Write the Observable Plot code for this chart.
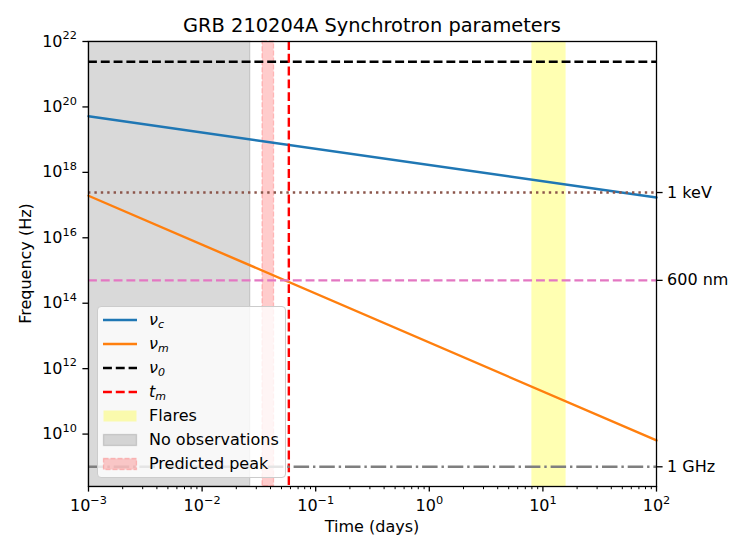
<!DOCTYPE html>
<html>
<head>
<meta charset="utf-8">
<script src="https://cdn.jsdelivr.net/npm/d3@7"></script>
<script src="https://cdn.jsdelivr.net/npm/@observablehq/plot@0.6"></script>
<style>
  html, body { margin: 0; padding: 0; background: white; }
  #chart { position: relative; width: 747px; height: 560px; font-family: "DejaVu Sans", sans-serif; }
  .legend { position: absolute; left: 97px; top: 306px; width: 189px; height: 172px; box-sizing: border-box;
            background: rgba(255,255,255,0.8); border: 1px solid #cccccc; border-radius: 4px; padding-top: 1px; }
  .row { position: relative; height: 24px; }
  .row svg { position: absolute; left: 4px; top: 0; }
  .row span { position: absolute; left: 51px; top: 1px; line-height: 22px; font-size: 16px; color: black; white-space: nowrap; }
  .row span i sub { font-size: 11px; vertical-align: -3px; }
</style>
</head>
<body>
<div id="chart"></div>
<script>
// ---- data ----
const timeDomain = [1e-3, 1e2];          // days
const freqDomain = [2.5e8, 1e22];        // Hz
const lineTimes = [1e-3, 1e2];
const nuC = [5.2e19, 1.7e17];            // cooling frequency
const nuM = [1.93e17, 6.4e9];            // characteristic frequency
const nu0 = 2.4e21;
const tM = 0.058;
const flares = [8, 16];
const noObs = [1e-3, 0.0265];
const predictedPeak = [0.034, 0.043];
const refFreqs = [2.418e17, 5e14, 1e9];
const refLabels = ["1 keV", "600 nm", "1 GHz"];
const refColors = ["#8c564b", "#e377c2", "#7f7f7f"];
const refDashes = ["2.4,4", "8.9,3.9", "15.5,3.9,2.4,3.9"];
const xTickExps = [-3, -2, -1, 0, 1, 2];
const yTickExps = [10, 12, 14, 16, 18, 20, 22];
const titleText = "GRB 210204A Synchrotron parameters";
const xLabel = "Time (days)";
const yLabel = "Frequency (Hz)";

const xTicks = xTickExps.map(e => Math.pow(10, e));
const yTicks = yTickExps.map(e => Math.pow(10, e));
const xMinor = [];
for (const e of xTickExps.slice(0, -1)) for (let k = 2; k <= 9; k++) xMinor.push(k * Math.pow(10, e));
const expFmt = d => "10^" + String(Math.round(Math.log10(d))).replace("-", "\u2212");

const cData = lineTimes.map((t, i) => ({t, f: nuC[i]}));
const mData = lineTimes.map((t, i) => ({t, f: nuM[i]}));
const refData = refFreqs.map((f, i) => ({f, color: refColors[i], dash: refDashes[i]}));

const svgPlot = Plot.plot({
  width: 747, height: 560,
  marginLeft: 88, marginRight: 91, marginTop: 41, marginBottom: 74,
  x: {type: "log", domain: timeDomain, label: null},
  y: {type: "log", domain: freqDomain, label: null},
  style: {fontFamily: "'DejaVu Sans', sans-serif", fontSize: "16px", background: "white", color: "black", overflow: "visible"},
  marks: [
    Plot.rect([noObs], {x1: d => d[0], x2: d => d[1], fill: "gray", fillOpacity: 0.3, stroke: "gray", strokeOpacity: 0.3, strokeWidth: 1.3}),
    Plot.rect([predictedPeak], {x1: d => d[0], x2: d => d[1], fill: "red", fillOpacity: 0.2, stroke: "red", strokeOpacity: 0.2, strokeWidth: 1.3, strokeDasharray: "5,2"}),
    Plot.rect([flares], {x1: d => d[0], x2: d => d[1], fill: "yellow", fillOpacity: 0.3}),
    Plot.line(cData, {x: "t", y: "f", stroke: "#1f77b4", strokeWidth: 2.4}),
    Plot.line(mData, {x: "t", y: "f", stroke: "#ff7f0e", strokeWidth: 2.4}),
    Plot.ruleY([nu0], {stroke: "black", strokeWidth: 2.4, strokeDasharray: "8.9,3.9"}),
    Plot.ruleX([tM], {stroke: "red", strokeWidth: 2.4, strokeDasharray: "8.9,3.9"}),
    ...refData.map(r => Plot.ruleY([r.f], {stroke: r.color, strokeWidth: 2.4, strokeDasharray: r.dash})),
    Plot.frame({stroke: "black", strokeWidth: 1.3}),
    Plot.axisX(xMinor, {tickSize: 3.2, tickFormat: () => "", strokeWidth: 1, label: null}),
    Plot.axisX(xTicks, {tickSize: 5.6, tickPadding: 7.5, tickFormat: expFmt, strokeWidth: 1.3, label: null}),
    Plot.axisY(yTicks, {anchor: "left", tickSize: 5.6, tickPadding: 6, tickFormat: expFmt, strokeWidth: 1.3, label: null}),
    Plot.axisY(refFreqs, {anchor: "right", tickSize: 5.6, tickPadding: 5, tickFormat: d => refLabels[refFreqs.indexOf(d)], strokeWidth: 1.3, label: null})
  ]
});

// superscripts for exponent tick labels
const ns = "http://www.w3.org/2000/svg";
svgPlot.querySelectorAll("text").forEach(t => {
  const s = t.textContent;
  if (!s.includes("^")) return;
  const [b, e] = s.split("^");
  t.textContent = b;
  const ts = document.createElementNS(ns, "tspan");
  ts.setAttribute("dy", "-7.3");
  ts.setAttribute("font-size", "11.3px");
  ts.textContent = e;
  t.appendChild(ts);
});

const sel = d3.select(svgPlot);
sel.append("text").attr("x", 372).attr("y", 32).attr("text-anchor", "middle")
  .attr("font-size", "19.4px").attr("fill", "black").text(titleText);
sel.append("text").attr("x", 372).attr("y", 532).attr("text-anchor", "middle")
  .attr("font-size", "16px").attr("fill", "black").text(xLabel);
sel.append("text").attr("transform", "translate(31,263.5) rotate(-90)").attr("text-anchor", "middle")
  .attr("font-size", "16px").attr("fill", "black").text(yLabel);

const chart = document.getElementById("chart");
chart.appendChild(svgPlot);

// legend
const legendItems = [
  {html: "<i>ν<sub>c</sub></i>", type: "line", color: "#1f77b4", dash: null},
  {html: "<i>ν<sub>m</sub></i>", type: "line", color: "#ff7f0e", dash: null},
  {html: "<i>ν<sub>0</sub></i>", type: "line", color: "black", dash: "8.9,3.9"},
  {html: "<i>t<sub>m</sub></i>", type: "line", color: "red", dash: "8.9,3.9"},
  {html: "Flares", type: "patch", fill: "yellow", fo: 0.3, stroke: "none"},
  {html: "No observations", type: "patch", fill: "gray", fo: 0.3, stroke: "gray", so: 0.3},
  {html: "Predicted peak", type: "patch", fill: "red", fo: 0.2, stroke: "red", so: 0.2, sdash: "5,2"}
];
const legend = document.createElement("div");
legend.className = "legend";
chart.appendChild(legend);
for (const it of legendItems) {
  const row = document.createElement("div");
  row.className = "row";
  let g;
  if (it.type === "line") {
    g = `<line x1="1" x2="35" y1="12" y2="12" stroke="${it.color}" stroke-width="2.4" ${it.dash ? `stroke-dasharray="${it.dash}"` : ""}/>`;
  } else {
    g = `<rect x="1.5" y="6.5" width="33" height="11" fill="${it.fill}" fill-opacity="${it.fo}" ${it.stroke !== "none" ? `stroke="${it.stroke}" stroke-opacity="${it.so}" stroke-width="1.3"` : ""} ${it.sdash ? `stroke-dasharray="${it.sdash}"` : ""}/>`;
  }
  row.innerHTML = `<svg width="37" height="24">${g}</svg><span>${it.html}</span>`;
  legend.appendChild(row);
}
</script>
</body>
</html>
